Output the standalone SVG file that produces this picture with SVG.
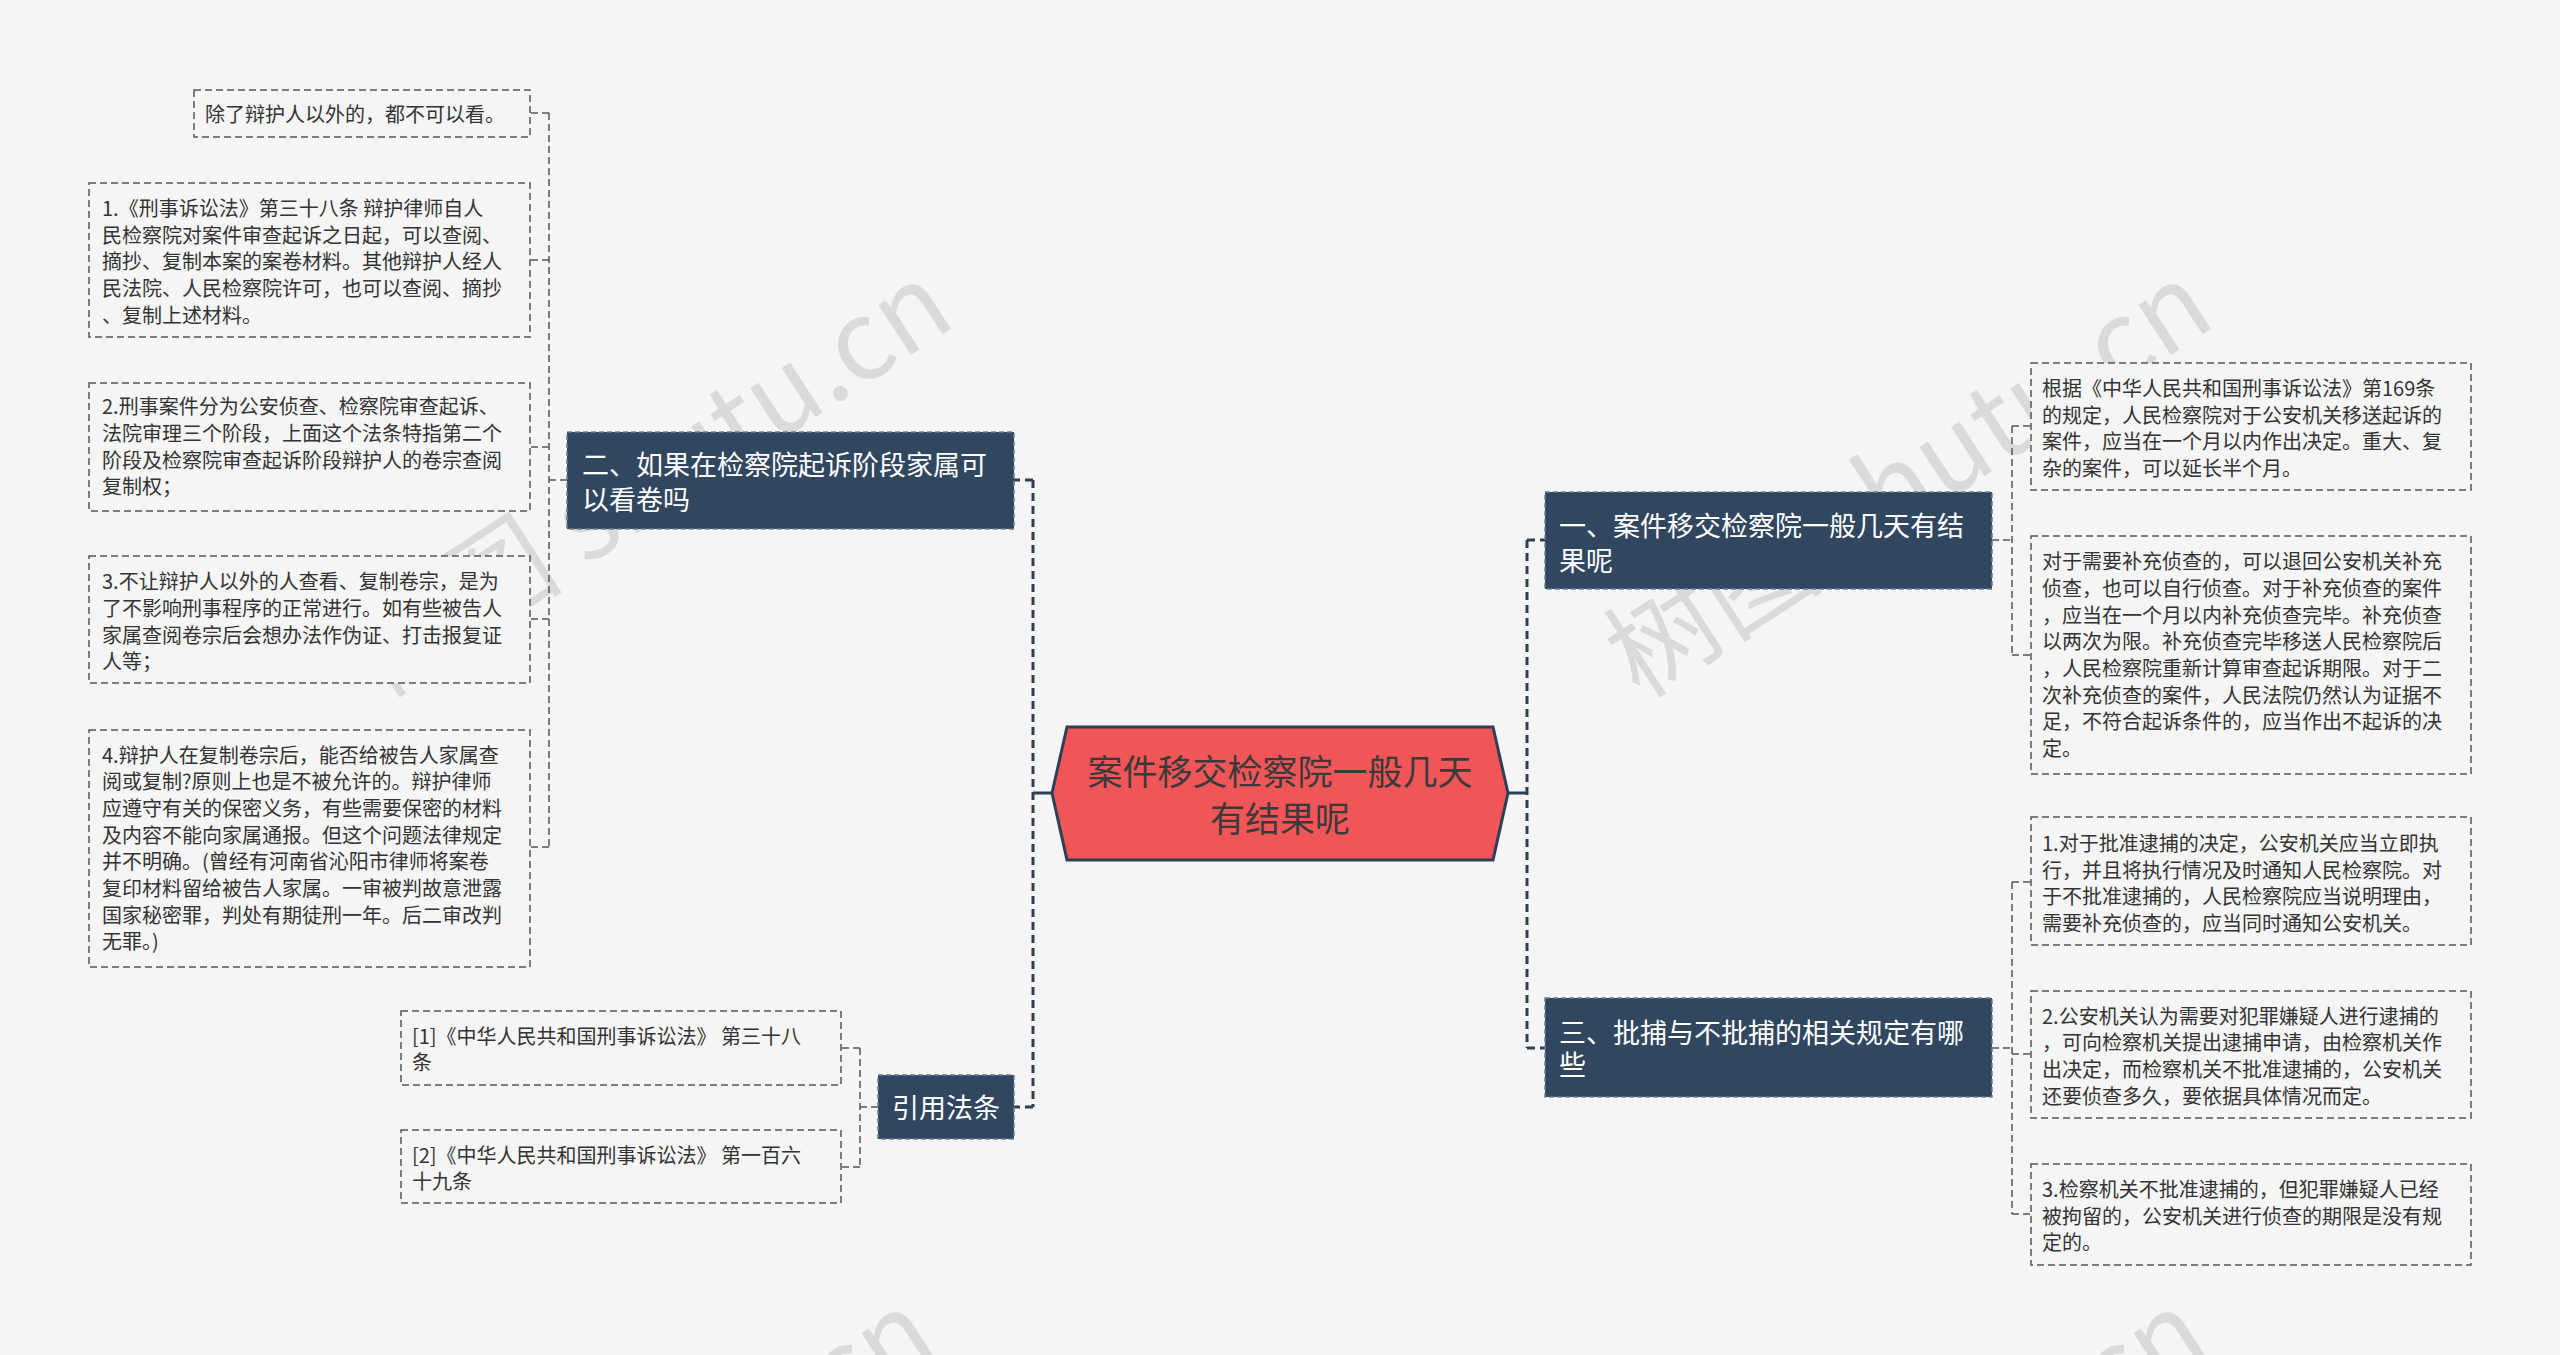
<svg xmlns="http://www.w3.org/2000/svg" width="2560" height="1355" viewBox="0 0 2560 1355">
<defs>
<style>
.bg{fill:#f5f5f5}
.wm{font-family:"Noto Sans CJK SC","Liberation Sans",sans-serif;font-size:110px;fill:#000;fill-opacity:0.11}
.leaf rect{fill:#f5f5f5;stroke:#555;stroke-width:1.5;stroke-dasharray:7 4}
.leaf text{font-family:"Noto Sans CJK SC","Liberation Sans",sans-serif;font-size:20px;fill:#333}
.topic rect{fill:#31475f;stroke:#6d7f94;stroke-width:1.5;stroke-dasharray:5 3}
.topic text{font-family:"Noto Sans CJK SC","Liberation Sans",sans-serif;font-size:27px;fill:#fff}
.root polygon{fill:#f05658;stroke:#2e3f55;stroke-width:3}
.root text{font-family:"Noto Sans CJK SC","Liberation Sans",sans-serif;font-size:35px;fill:#3a3a3a;text-anchor:middle}
.main{fill:none;stroke:#2e3f55;stroke-width:3}
.maind{fill:none;stroke:#2e3f55;stroke-width:3;stroke-dasharray:8 5}
.sub{fill:none;stroke:#555;stroke-width:1.5;stroke-dasharray:7 4}
</style>
</defs>
<rect class="bg" x="0" y="0" width="2560" height="1355"/>
<g id="watermarks">
<text class="wm" transform="translate(380,700) rotate(-33)">树图 shutu.cn</text>
<text class="wm" transform="translate(1640,700) rotate(-33)">树图 shutu.cn</text>
<text class="wm" transform="translate(363,1728) rotate(-33)">树图 shutu.cn</text>
<text class="wm" transform="translate(1635,1728) rotate(-33)">树图 shutu.cn</text>
</g>
<g id="connectors">
<path class="main" d="M1508 793 H1527"/>
<path class="maind" d="M1527 540 V1048 M1527 540 H1545 M1527 1048 H1545"/>
<path class="main" d="M1052 793 H1033"/>
<path class="maind" d="M1033 480 V1107 M1033 480 H1014 M1033 1107 H1014"/>
<path class="sub" d="M567 480 H549 M549 113 V847 M549 113 H530 M549 260 H530 M549 447 H530 M549 619 H530 M549 847 H530"/>
<path class="sub" d="M878 1107 H860 M860 1048 V1167 M860 1048 H841 M860 1167 H841"/>
<path class="sub" d="M1992 540 H2012 M2012 426 V655 M2012 426 H2031 M2012 655 H2031"/>
<path class="sub" d="M1992 1048 H2012 M2012 882 V1214 M2012 882 H2031 M2012 1054 H2031 M2012 1214 H2031"/>
</g>
<g id="root" class="root">
<polygon points="1052,793 1067,727 1493,727 1508,793 1493,860 1067,860"/>
<text x="1280" y="785">案件移交检察院一般几天</text>
<text x="1280" y="832">有结果呢</text>
</g>
<g id="topic-2" class="topic">
<rect x="567" y="432" width="447" height="97"/>
<text x="582" y="475">二、如果在检察院起诉阶段家属可</text>
<text x="582" y="510">以看卷吗</text>
</g>
<g id="topic-cite" class="topic">
<rect x="878" y="1075" width="136" height="64"/>
<text x="946" y="1118" text-anchor="middle">引用法条</text>
</g>
<g id="topic-1" class="topic">
<rect x="1545" y="492" width="447" height="97"/>
<text x="1559" y="536">一、案件移交检察院一般几天有结</text>
<text x="1559" y="571">果呢</text>
</g>
<g id="topic-3" class="topic">
<rect x="1545" y="998" width="447" height="99"/>
<text x="1559" y="1043">三、批捕与不批捕的相关规定有哪</text>
<text x="1559" y="1075">些</text>
</g>
<g id="leaf-2-0" class="leaf">
<rect x="194" y="90" width="336" height="47"/>
<text x="205" y="122">除了辩护人以外的，都不可以看。</text>
</g>
<g id="leaf-2-1" class="leaf">
<rect x="89" y="183" width="441" height="154"/>
<text x="102" y="216">1.《刑事诉讼法》第三十八条 辩护律师自人</text>
<text x="102" y="243">民检察院对案件审查起诉之日起，可以查阅、</text>
<text x="102" y="269">摘抄、复制本案的案卷材料。其他辩护人经人</text>
<text x="102" y="296">民法院、人民检察院许可，也可以查阅、摘抄</text>
<text x="102" y="323">、复制上述材料。</text>
</g>
<g id="leaf-2-2" class="leaf">
<rect x="89" y="383" width="441" height="128"/>
<text x="102" y="414">2.刑事案件分为公安侦查、检察院审查起诉、</text>
<text x="102" y="441">法院审理三个阶段，上面这个法条特指第二个</text>
<text x="102" y="468">阶段及检察院审查起诉阶段辩护人的卷宗查阅</text>
<text x="102" y="494">复制权；</text>
</g>
<g id="leaf-2-3" class="leaf">
<rect x="89" y="556" width="441" height="127"/>
<text x="102" y="589">3.不让辩护人以外的人查看、复制卷宗，是为</text>
<text x="102" y="616">了不影响刑事程序的正常进行。如有些被告人</text>
<text x="102" y="643">家属查阅卷宗后会想办法作伪证、打击报复证</text>
<text x="102" y="669">人等；</text>
</g>
<g id="leaf-2-4" class="leaf">
<rect x="89" y="730" width="441" height="237"/>
<text x="102" y="763">4.辩护人在复制卷宗后，能否给被告人家属查</text>
<text x="102" y="789">阅或复制?原则上也是不被允许的。辩护律师</text>
<text x="102" y="816">应遵守有关的保密义务，有些需要保密的材料</text>
<text x="102" y="843">及内容不能向家属通报。但这个问题法律规定</text>
<text x="102" y="869">并不明确。(曾经有河南省沁阳市律师将案卷</text>
<text x="102" y="896">复印材料留给被告人家属。一审被判故意泄露</text>
<text x="102" y="923">国家秘密罪，判处有期徒刑一年。后二审改判</text>
<text x="102" y="949">无罪。)</text>
</g>
<g id="leaf-cite-1" class="leaf">
<rect x="401" y="1011" width="440" height="74"/>
<text x="412" y="1044">[1]《中华人民共和国刑事诉讼法》 第三十八</text>
<text x="412" y="1070">条</text>
</g>
<g id="leaf-cite-2" class="leaf">
<rect x="401" y="1130" width="440" height="73"/>
<text x="412" y="1163">[2]《中华人民共和国刑事诉讼法》 第一百六</text>
<text x="412" y="1189">十九条</text>
</g>
<g id="leaf-1-1" class="leaf">
<rect x="2031" y="363" width="440" height="127"/>
<text x="2042" y="396">根据《中华人民共和国刑事诉讼法》第169条</text>
<text x="2042" y="423">的规定，人民检察院对于公安机关移送起诉的</text>
<text x="2042" y="449">案件，应当在一个月以内作出决定。重大、复</text>
<text x="2042" y="476">杂的案件，可以延长半个月。</text>
</g>
<g id="leaf-1-2" class="leaf">
<rect x="2031" y="536" width="440" height="238"/>
<text x="2042" y="569">对于需要补充侦查的，可以退回公安机关补充</text>
<text x="2042" y="596">侦查，也可以自行侦查。对于补充侦查的案件</text>
<text x="2042" y="623">，应当在一个月以内补充侦查完毕。补充侦查</text>
<text x="2042" y="649">以两次为限。补充侦查完毕移送人民检察院后</text>
<text x="2042" y="676">，人民检察院重新计算审查起诉期限。对于二</text>
<text x="2042" y="703">次补充侦查的案件，人民法院仍然认为证据不</text>
<text x="2042" y="729">足，不符合起诉条件的，应当作出不起诉的决</text>
<text x="2042" y="756">定。</text>
</g>
<g id="leaf-3-1" class="leaf">
<rect x="2031" y="817" width="440" height="128"/>
<text x="2042" y="851">1.对于批准逮捕的决定，公安机关应当立即执</text>
<text x="2042" y="878">行，并且将执行情况及时通知人民检察院。对</text>
<text x="2042" y="904">于不批准逮捕的，人民检察院应当说明理由，</text>
<text x="2042" y="931">需要补充侦查的，应当同时通知公安机关。</text>
</g>
<g id="leaf-3-2" class="leaf">
<rect x="2031" y="991" width="440" height="127"/>
<text x="2042" y="1024">2.公安机关认为需要对犯罪嫌疑人进行逮捕的</text>
<text x="2042" y="1050">，可向检察机关提出逮捕申请，由检察机关作</text>
<text x="2042" y="1077">出决定，而检察机关不批准逮捕的，公安机关</text>
<text x="2042" y="1104">还要侦查多久，要依据具体情况而定。</text>
</g>
<g id="leaf-3-3" class="leaf">
<rect x="2031" y="1164" width="440" height="101"/>
<text x="2042" y="1197">3.检察机关不批准逮捕的，但犯罪嫌疑人已经</text>
<text x="2042" y="1224">被拘留的，公安机关进行侦查的期限是没有规</text>
<text x="2042" y="1250">定的。</text>
</g>
</svg>
